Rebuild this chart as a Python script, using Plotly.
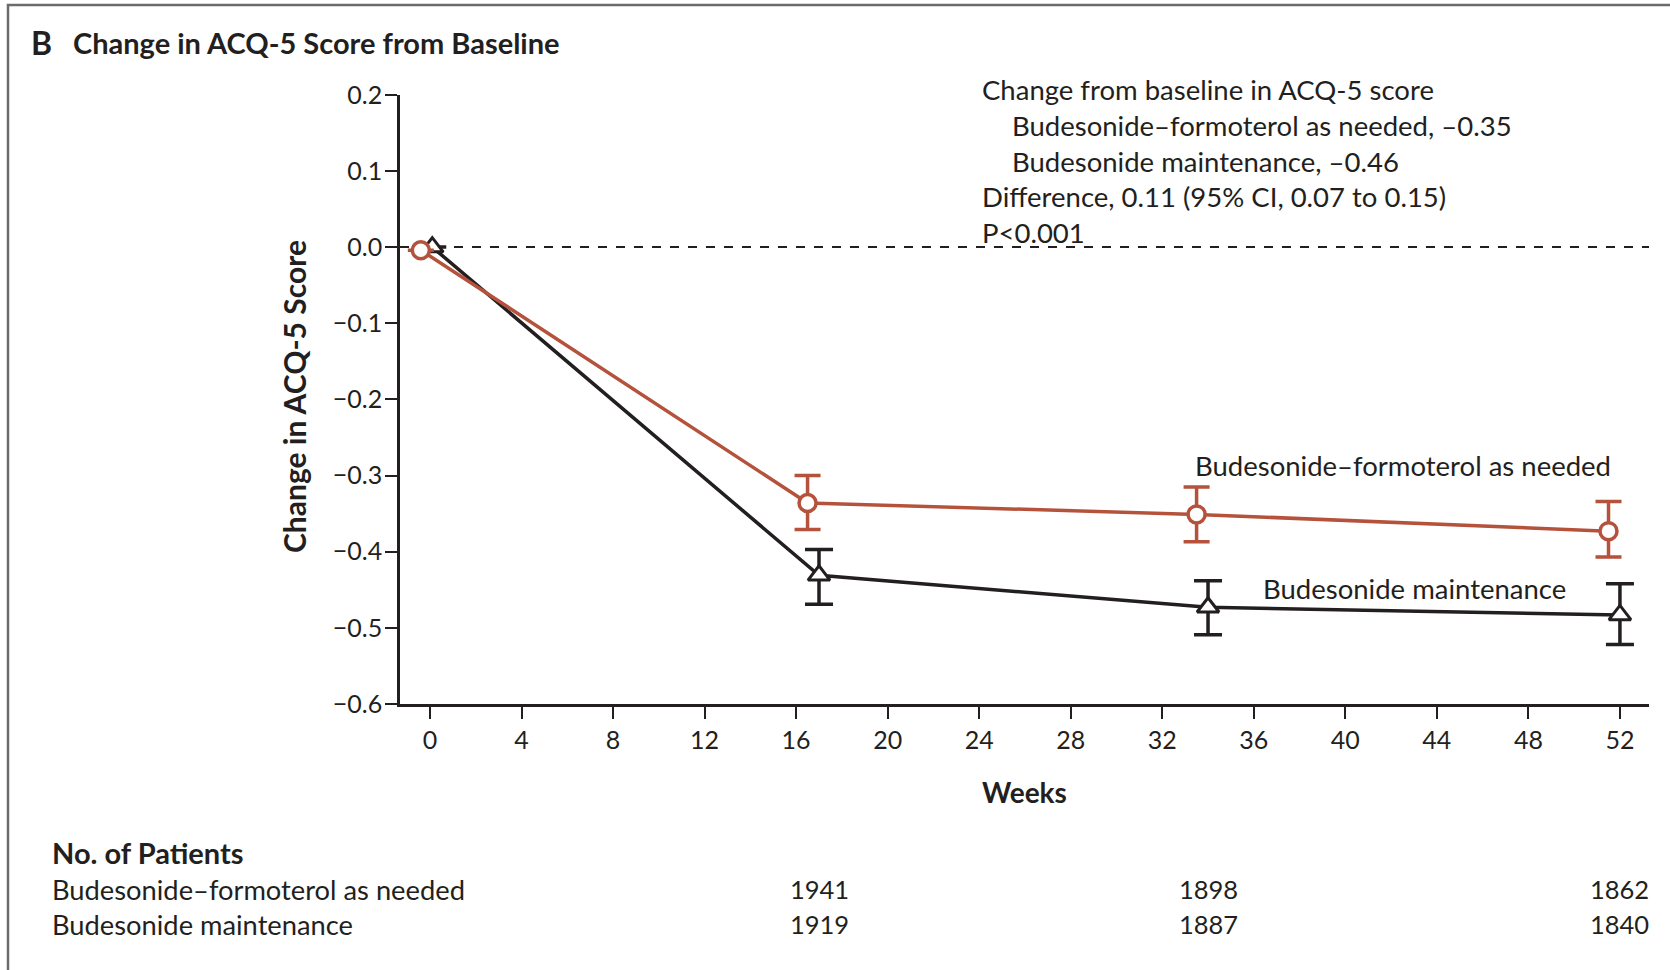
import plotly.graph_objects as go

W, H = 1670, 970

# ---------------- data ----------------
weeks_bf = [-0.4, 16.5, 33.5, 51.5]
mean_bf = [-0.004, -0.336, -0.351, -0.373]
ci_hi_bf = [None, -0.300, -0.315, -0.334]
ci_lo_bf = [None, -0.371, -0.387, -0.407]

weeks_bm = [0.1, 17.0, 34.0, 52.0]
mean_bm = [0.0, -0.431, -0.473, -0.483]
ci_hi_bm = [None, -0.397, -0.438, -0.442]
ci_lo_bm = [None, -0.469, -0.509, -0.522]

x_ticks = list(range(0, 53, 4))
y_ticks = [0.2, 0.1, 0.0, -0.1, -0.2, -0.3, -0.4, -0.5, -0.6]
y_tick_labels = ["0.2", "0.1", "0.0", "\u22120.1", "\u22120.2", "\u22120.3",
                 "\u22120.4", "\u22120.5", "\u22120.6"]

table_weeks = [17, 34, 52]
n_bf = [1941, 1898, 1862]
n_bm = [1919, 1887, 1840]

name_bf = "Budesonide\u2013formoterol as needed"
name_bm = "Budesonide maintenance"

stats_lines = [
    ("Change from baseline in ACQ-5 score", 0),
    ("Budesonide\u2013formoterol as needed, \u20130.35", 1),
    ("Budesonide maintenance, \u20130.46", 1),
    ("Difference, 0.11 (95% CI, 0.07 to 0.15)", 0),
    ("P<0.001", 0),
]

# ---------------- style ----------------
RED = "#B5523B"
BLK = "#231F20"
FONT = "Lato"

def err(mean, hi, lo):
    up = [None if h is None else h - m for m, h in zip(mean, hi)]
    dn = [None if l is None else m - l for m, l in zip(mean, lo)]
    return up, dn

up_bf, dn_bf = err(mean_bf, ci_hi_bf, ci_lo_bf)
up_bm, dn_bm = err(mean_bm, ci_hi_bm, ci_lo_bm)

fig = go.Figure()

fig.add_trace(go.Scatter(
    x=weeks_bm, y=mean_bm, mode="lines+markers", name=name_bm,
    line=dict(color=BLK, width=3.5),
    marker=dict(symbol="triangle-up", size=19, color="white",
                line=dict(color=BLK, width=3)),
    error_y=dict(type="data", symmetric=False, array=up_bm, arrayminus=dn_bm,
                 color=BLK, thickness=3.5, width=14),
))
fig.add_trace(go.Scatter(
    x=weeks_bf, y=mean_bf, mode="lines+markers", name=name_bf,
    line=dict(color=RED, width=3.5),
    marker=dict(symbol="circle", size=17, color="white",
                line=dict(color=RED, width=3.5)),
    error_y=dict(type="data", symmetric=False, array=up_bf, arrayminus=dn_bf,
                 color=RED, thickness=3.5, width=13),
))

x0d, x1d = 400 / W, 1649 / W
y0d, y1d = 1 - 704 / H, 1 - 94.8 / H

fig.update_layout(
    template="none",
    width=W, height=H,
    margin=dict(l=0, r=0, t=0, b=0, pad=0, autoexpand=False),
    paper_bgcolor="white", plot_bgcolor="white",
    showlegend=False,
    font=dict(family=FONT, color=BLK, size=25),
    xaxis=dict(domain=[x0d, x1d], range=[-1.31, 53.27], tickmode="array",
               tickvals=x_ticks, ticktext=[str(t) for t in x_ticks],
               showline=True, linecolor=BLK, linewidth=2.5, ticks="outside",
               ticklen=12, tickwidth=2, tickcolor=BLK, showgrid=False,
               zeroline=False, automargin=False,
               tickfont=dict(size=25, family=FONT, color=BLK)),
    yaxis=dict(domain=[y0d, y1d], range=[-0.6, 0.2], tickmode="array",
               tickvals=y_ticks, ticktext=y_tick_labels,
               showline=True, linecolor=BLK, linewidth=2.5, ticks="outside",
               ticklen=12, tickwidth=2, tickcolor=BLK, showgrid=False,
               zeroline=False, automargin=False, ticklabelstandoff=-2,
               tickfont=dict(size=25, family=FONT, color=BLK)),
)

shapes = [
    dict(type="line", xref="x", yref="y", x0=-1.31, x1=53.27, y0=0, y1=0,
         line=dict(color=BLK, width=2, dash="dash"), layer="below"),
    dict(type="rect", xref="paper", yref="paper", x0=8 / W, x1=1.05,
         y0=-0.05, y1=1 - 5 / H, line=dict(color="#6b6b6b", width=2.5),
         fillcolor="rgba(0,0,0,0)"),
]
fig.update_layout(shapes=shapes)

ann = []
def txt(x, y, s, size=27, bold=False, xanchor="left", xref="paper", yref="paper",
        color=BLK, angle=0):
    ann.append(dict(x=x, y=y, xref=xref, yref=yref, text=("<b>%s</b>" % s) if bold else s,
                    showarrow=False, xanchor=xanchor, yanchor="middle", textangle=angle,
                    font=dict(family=FONT, size=size, color=color)))

# title
txt(29 / W, 1 - 43 / H, "B", size=32, bold=True)
txt(71 / W, 1 - 43 / H, "Change in ACQ-5 Score from Baseline", size=29, bold=True)
# axis titles
txt(294 / W, 1 - 397 / H, "Change in ACQ-5 Score", size=30, bold=True,
    xanchor="center", angle=-90)
txt(1024 / W, 1 - 792 / H, "Weeks", size=28, bold=True, xanchor="center")
# stats block
for i, (s, indent) in enumerate(stats_lines):
    txt((980 + 30 * indent) / W, 1 - (89.5 + 35.8 * i) / H, s, size=27.5)
# series labels
txt(1193 / W, 1 - 465 / H, name_bf, size=27.5)
txt(1261 / W, 1 - 588 / H, name_bm, size=27.5)
# patients table
txt(50 / W, 1 - 852 / H, "No. of Patients", size=29, bold=True)
txt(50 / W, 1 - 889 / H, name_bf, size=27.3)
txt(50 / W, 1 - 924 / H, name_bm, size=27.3)
for wk, a, b in zip(table_weeks, n_bf, n_bm):
    txt(wk, 1 - 889 / H, str(a), size=25.5, xanchor="center", xref="x")
    txt(wk, 1 - 924 / H, str(b), size=25.5, xanchor="center", xref="x")

fig.update_layout(annotations=ann)
fig.write_html("out.html")
